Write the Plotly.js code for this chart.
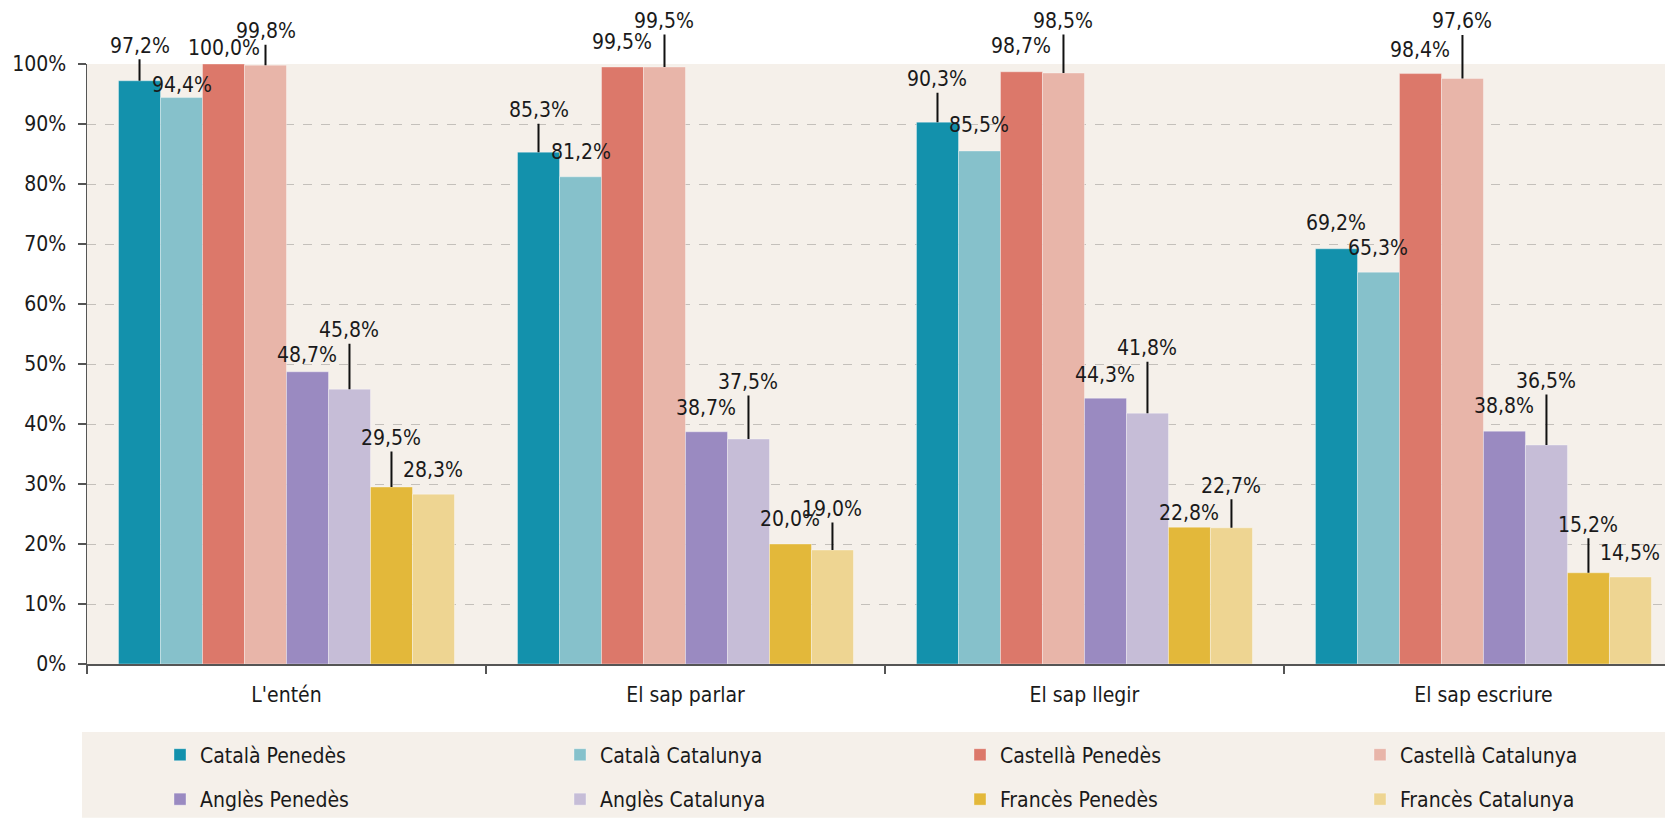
<!DOCTYPE html>
<html>
<head>
<meta charset="utf-8">
<script src="https://cdn.plot.ly/plotly-3.0.1.min.js"></script>
<style>
  html, body { margin: 0; padding: 0; background: #ffffff; }
  #chart { width: 1665px; height: 820px; }
</style>
</head>
<body>
<div id="chart"></div>
<script>
// categories and series (percentages)
const categories = ["L'entén", "El sap parlar", "El sap llegir", "El sap escriure"];
const series_names = ["Català Penedès", "Català Catalunya", "Castellà Penedès", "Castellà Catalunya",
                      "Anglès Penedès", "Anglès Catalunya", "Francès Penedès", "Francès Catalunya"];
const catala_penedes     = [97.2, 85.3, 90.3, 69.2];
const catala_catalunya   = [94.4, 81.2, 85.5, 65.3];
const castella_penedes   = [100.0, 99.5, 98.7, 98.4];
const castella_catalunya = [99.8, 99.5, 98.5, 97.6];
const angles_penedes     = [48.7, 38.7, 44.3, 38.8];
const angles_catalunya   = [45.8, 37.5, 41.8, 36.5];
const frances_penedes    = [29.5, 20.0, 22.8, 15.2];
const frances_catalunya  = [28.3, 19.0, 22.7, 14.5];
const y_ticks = [0, 10, 20, 30, 40, 50, 60, 70, 80, 90, 100];

const all_values = [catala_penedes, catala_catalunya, castella_penedes, castella_catalunya,
                    angles_penedes, angles_catalunya, frances_penedes, frances_catalunya];
const colors = ["#1391ac", "#86c1cb", "#dc786a", "#e8b5a9", "#9a8ac1", "#c6bdd7", "#e3b83a", "#eed592"];

// label placement (px above the bar top) and whether a leader line is drawn, per series / category
const label_dy = [
  [35, 42, 43, 26],
  [13, 25, 26, 24],
  [16, 25, 26, 24],
  [34, 46, 52, 57],
  [17, 24, 23, 25],
  [59, 57, 65, 64],
  [49, 25, 14, 48],
  [24, 41, 42, 24]
];
const label_line = [
  [1, 1, 1, 0],
  [0, 0, 0, 0],
  [0, 0, 0, 0],
  [1, 1, 1, 1],
  [0, 0, 0, 0],
  [1, 1, 1, 1],
  [1, 0, 0, 1],
  [0, 1, 1, 0]
];

let font_fam = "'DejaVu Sans Condensed', 'DejaVu Sans', sans-serif";
let bargap = 0.158;
let n = series_names.length;

// one small legend per series, laid out as 2 rows x 4 columns
let traces = [];
for (let i = 0; i < n; i++) {
  traces.push({
    type: 'bar',
    x: categories,
    y: all_values[i],
    name: series_names[i],
    marker: { color: colors[i], line: { color: 'rgba(255,255,255,0.35)', width: 1 } },
    legend: i === 0 ? 'legend' : 'legend' + (i + 1),
    hoverinfo: 'name+y'
  });
}

// labels
let annotations = [];
let bw = (1 - bargap) / n;
for (let i = 0; i < n; i++) {
  for (let c = 0; c < categories.length; c++) {
    let v = all_values[i][c];
    let xpos = c - (1 - bargap) / 2 + (i + 0.5) * bw;
    let txt = v.toFixed(1).replace('.', ',') + '%';
    let a = {
      x: xpos, y: v, xref: 'x', yref: 'y',
      text: txt,
      font: { family: font_fam, size: 21, color: '#1a1a1a' }
    };
    if (label_line[i][c]) {
      a.showarrow = true;
      a.arrowhead = 0;
      a.arrowwidth = 2;
      a.arrowcolor = '#111111';
      a.standoff = 0;
      a.ax = 0;
      a.ay = -label_dy[i][c];
    } else {
      a.showarrow = false;
      a.yanchor = 'middle';
      a.yshift = label_dy[i][c];
    }
    annotations.push(a);
  }
}

// pixel -> paper helpers for the legend band
let plot_left = 87, plot_w = 1578;
let plot_top = 64, plot_bottom = 665.7;
function py(pix) { return (plot_bottom - pix) / (plot_bottom - plot_top); }
function px(pix) { return (pix - plot_left) / plot_w; }

function make_legend(xpix, ypix) {
  return {
    orientation: 'h',
    x: px(xpix), xanchor: 'left',
    y: py(ypix), yanchor: 'middle',
    bgcolor: 'rgba(0,0,0,0)',
    font: { family: font_fam, size: 21, color: '#1a1a1a' }
  };
}

var layout = {
  width: 1665,
  height: 820,
  margin: { l: plot_left, r: 0, t: plot_top, b: 820 - plot_bottom },
  paper_bgcolor: '#ffffff',
  plot_bgcolor: '#f5f0ea',
  barmode: 'group',
  bargap: bargap,
  bargroupgap: 0,
  font: { family: font_fam, size: 21, color: '#1a1a1a' },
  xaxis: {
    type: 'category',
    range: [-0.5, 3.455],
    tickson: 'boundaries',
    ticks: 'outside',
    ticklen: 8,
    tickcolor: '#555555',
    tickwidth: 1.5,
    showline: true,
    linecolor: '#555555',
    linewidth: 1.5,
    showgrid: false,
    ticklabelstandoff: 11,
    tickfont: { family: font_fam, size: 21, color: '#1a1a1a' }
  },
  yaxis: {
    range: [0, 100],
    tickvals: y_ticks,
    ticktext: y_ticks.map(t => t + '%'),
    ticks: 'outside',
    ticklen: 8,
    tickcolor: '#555555',
    tickwidth: 1.5,
    showline: true,
    linecolor: '#555555',
    linewidth: 1.5,
    showgrid: true,
    gridcolor: '#c4c0bb',
    griddash: 'dash',
    gridwidth: 1,
    zeroline: false,
    ticklabelstandoff: 7,
    tickfont: { family: font_fam, size: 21, color: '#1a1a1a' }
  },
  showlegend: true,
  shapes: [{
    type: 'rect', xref: 'paper', yref: 'paper', layer: 'below',
    x0: px(82), x1: 1, y0: py(734), y1: py(820),
    fillcolor: '#f5f0ea', line: { width: 0 }
  }],
  annotations: annotations
};

let col_x = [160, 560, 960, 1360];
let row_y = [757, 802];
for (let i = 0; i < n; i++) {
  let key = i === 0 ? 'legend' : 'legend' + (i + 1);
  layout[key] = make_legend(col_x[i % 4], row_y[Math.floor(i / 4)]);
}

Plotly.newPlot('chart', traces, layout, { displayModeBar: false, staticPlot: true });
</script>
</body>
</html>
